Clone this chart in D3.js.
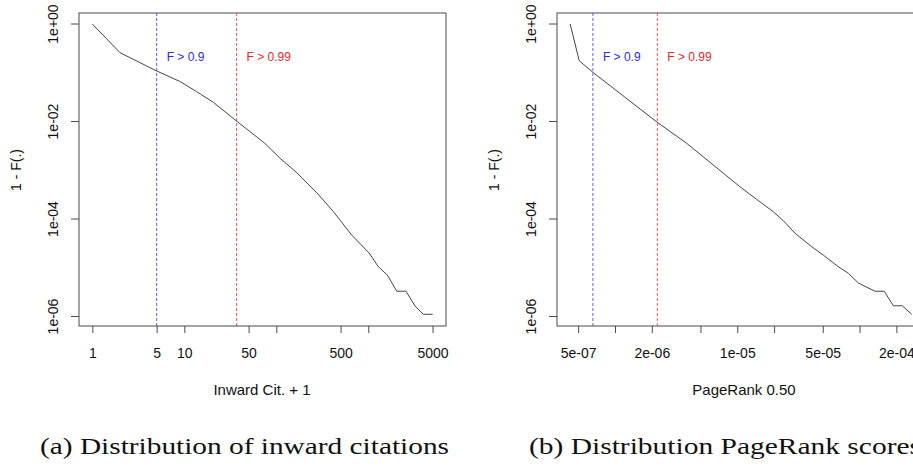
<!DOCTYPE html>
<html>
<head>
<meta charset="utf-8">
<script src="https://cdn.jsdelivr.net/npm/d3@7"></script>
<style>
  body { margin: 0; background: #fff; overflow: hidden; }
  svg { display: block; }
  .tx { font-family: "Liberation Sans", Arial, sans-serif; font-size: 14px; fill: #111; }
  .cap { font-family: "Liberation Serif", "DejaVu Serif", serif; font-size: 24px; fill: #111; }
</style>
</head>
<body>
<svg id="chart" width="913" height="466"></svg>
<script>
// (a) inward citations + 1 vs 1 - F
var citX = [1, 2, 5, 9, 13.6, 20.7, 37, 75, 110, 167, 275, 417, 660, 1023, 1285, 1610, 2040, 2570, 3220, 3960, 5010];
var citY = [1, 0.258, 0.109, 0.066, 0.041, 0.0247, 0.0102, 0.00357, 0.00176, 0.00089, 0.000347, 0.000142,
            0.000047, 0.00002, 0.0000105, 0.0000071, 0.0000033, 0.0000033, 0.00000164, 0.00000111, 0.00000111];
// (b) PageRank vs 1 - F
var prX = [4.3e-7, 5.1e-7, 6.6e-7, 2.22e-6, 3.86e-6, 1.05e-5, 1.44e-5, 1.97e-5, 2.38e-5, 2.96e-5, 4.06e-5,
           5.05e-5, 6.7e-5, 8.1e-5, 9.75e-5, 1.14e-4, 1.34e-4, 1.59e-4, 1.89e-4, 2.23e-4, 2.67e-4];
var prY = [1, 0.177, 0.102, 0.0096, 0.00357, 0.00046, 0.000253, 0.000141, 0.0000923, 0.0000513, 0.000027,
           0.0000182, 0.0000105, 0.0000077, 0.0000049, 0.000004, 0.0000033, 0.0000033, 0.00000166, 0.00000166, 0.00000111];

var yTicks = [1, 1e-2, 1e-4, 1e-6];
var yTickLabels = ["1e+00", "1e-02", "1e-04", "1e-06"];

var citTicks = [1, 5, 10, 50, 100, 500, 1000, 5000];
var citTickLabels = ["1", "5", "10", "50", "", "500", "", "5000"];
var prTicks = [5e-7, 1e-6, 2e-6, 5e-6, 1e-5, 2e-5, 5e-5, 1e-4, 2e-4];
var prTickLabels = ["5e-07", "", "2e-06", "", "1e-05", "", "5e-05", "", "2e-04"];

var citCuts = [5, 37];
var prCuts = [6.6e-7, 2.22e-6];
var cutLabels = ["F > 0.9", "F > 0.99"];
var cutColors = ["#2b2bdc", "#e02a2a"];

var svg = d3.select("#chart");

function panel(o) {
    var x = d3.scaleLog().domain(o.xDomain).range([o.left, o.right]);
    var y = d3.scaleLog().domain([Math.pow(10, -6.195), Math.pow(10, 0.226)]).range([326, 13]);
    var g = svg.append("g");

    // threshold lines
    o.cuts.forEach(function (c, i) {
        g.append("line")
            .attr("x1", x(c)).attr("x2", x(c))
            .attr("y1", 13).attr("y2", 326)
            .attr("stroke", cutColors[i]).attr("stroke-opacity", 0.75)
            .attr("stroke-width", 1).attr("stroke-dasharray", "3,2");
        g.append("text").attr("class", "tx")
            .attr("x", x(c) + 10).attr("y", 61)
            .style("font-size", "12px")
            .style("fill", cutColors[i])
            .text(cutLabels[i]);
    });

    // curve
    var pts = o.xs.map(function (v, i) { return [v, o.ys[i]]; });
    g.append("path")
        .datum(pts)
        .attr("fill", "none")
        .attr("stroke", "#444")
        .attr("stroke-width", 1)
        .attr("d", d3.line().x(function (d) { return x(d[0]); }).y(function (d) { return y(d[1]); }));

    // box
    g.append("rect")
        .attr("x", o.left).attr("y", 13)
        .attr("width", o.right - o.left).attr("height", 313)
        .attr("fill", "none").attr("stroke", "#4a4a4a").attr("stroke-width", 1);

    // x axis
    var ax = g.append("g").attr("transform", "translate(0,326)")
        .call(d3.axisBottom(x).tickValues(o.ticks).tickSize(7).tickPadding(15)
            .tickFormat(function (d, i) { return o.tickLabels[i]; }));
    ax.select(".domain").remove();
    ax.selectAll("line").attr("stroke", "#4a4a4a");
    ax.selectAll("text").attr("class", "tx").attr("fill", null);
    ax.attr("font-family", null).attr("font-size", null);

    // y axis
    yTicks.forEach(function (t, i) {
        g.append("line")
            .attr("x1", o.left - 8).attr("x2", o.left)
            .attr("y1", y(t)).attr("y2", y(t))
            .attr("stroke", "#4a4a4a");
        g.append("text").attr("class", "tx")
            .attr("text-anchor", "middle")
            .attr("transform", "translate(" + (o.left - 21) + "," + y(t) + ") rotate(-90)")
            .text(yTickLabels[i]);
    });

    g.append("text").attr("class", "tx")
        .attr("text-anchor", "middle")
        .attr("transform", "translate(" + (o.left - 58) + ",170) rotate(-90)")
        .text("1 - F(.)");

    g.append("text").attr("class", "tx")
        .attr("text-anchor", "middle")
        .style("font-size", "15px")
        .attr("x", o.titleX).attr("y", 395)
        .text(o.title);

    g.append("text").attr("class", "cap")
        .attr("x", o.capX).attr("y", 454)
        .attr("textLength", o.capLen).attr("lengthAdjust", "spacingAndGlyphs")
        .text(o.caption);
}

panel({
    left: 79, right: 446,
    xDomain: [Math.pow(10, -0.145), Math.pow(10, 3.845)],
    xs: citX, ys: citY, cuts: citCuts,
    ticks: citTicks, tickLabels: citTickLabels,
    title: "Inward Cit. + 1", titleX: 262,
    caption: "(a) Distribution of inward citations", capX: 40, capLen: 409
});

panel({
    left: 557, right: 931,
    xDomain: [Math.pow(10, -6.474), Math.pow(10, -3.416)],
    xs: prX, ys: prY, cuts: prCuts,
    ticks: prTicks, tickLabels: prTickLabels,
    title: "PageRank 0.50", titleX: 744,
    caption: "(b) Distribution PageRank scores", capX: 529, capLen: 392
});
</script>
</body>
</html>
